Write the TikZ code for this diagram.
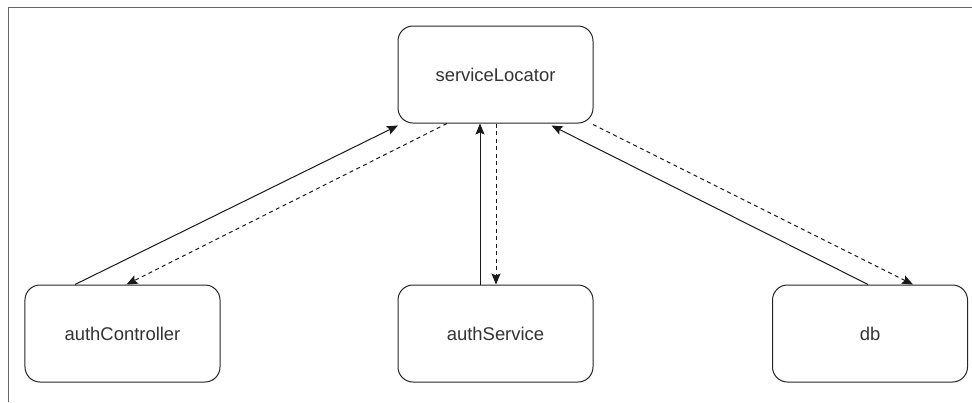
\documentclass[tikz,border=0pt]{standalone}
\usepackage{fontspec}
\setmainfont{Liberation Sans}
\usetikzlibrary{arrows.meta}
\begin{document}
\begin{tikzpicture}[x=1bp,y=-1bp,
  box/.style={draw=black!85,line width=1bp,rounded corners=15bp,minimum width=195bp,minimum height=97bp,inner sep=0pt,font=\fontsize{18.5}{22}\selectfont,text=black!80},
  conn/.style={line width=1bp,draw=black!90,-{Stealth[length=11bp,width=9bp,inset=2bp]}},
  dconn/.style={conn,dash pattern=on 4bp off 3.5bp}]
\useasboundingbox (0,0) rectangle (972,402);
\fill[white] (0,0) rectangle (972,402);
\draw[line width=1.6bp,draw=black!60] (8.5,402) -- (8.5,7.5) -- (972,7.5);
\node[box] (sl) at (495.5,74.5) {serviceLocator};
\node[box] (ac) at (122.5,333.5) {authController};
\node[box] (as) at (495.5,333.5) {authService};
\node[box] (db) at (870,333.5) {db};
% solid: bottom -> serviceLocator
\draw[conn] ([xshift=-47.5bp]ac.north) -- ([xshift=-97.5bp,yshift=-2bp]sl.south);
\draw[conn] ([xshift=-15.5bp]as.north) -- ([xshift=-15.5bp]sl.south);
\draw[conn] ([xshift=-2bp]db.north) -- ([xshift=56bp,yshift=-2bp]sl.south);
% dashed: serviceLocator -> bottom
\draw[dconn] ([xshift=-48.5bp]sl.south) -- ([xshift=4bp]ac.north);
\draw[dconn] ([xshift=0.5bp]sl.south) -- ([xshift=0.5bp]as.north);
\draw[dconn] ([xshift=97.5bp,yshift=-1bp]sl.south) -- ([xshift=43bp]db.north);
\end{tikzpicture}
\end{document}
